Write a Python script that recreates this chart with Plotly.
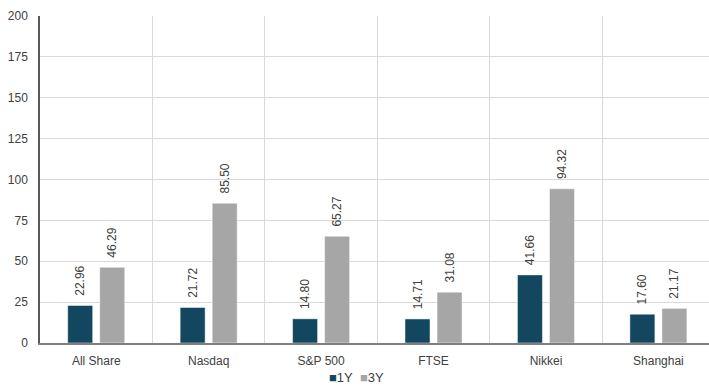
import plotly.graph_objects as go

categories = ["All Share", "Nasdaq", "S&P 500", "FTSE", "Nikkei", "Shanghai"]
series_names = ["1Y", "3Y"]
values_1y = [22.96, 21.72, 14.80, 14.71, 41.66, 17.60]
values_3y = [46.29, 85.50, 65.27, 31.08, 94.32, 21.17]
colors = ["#134760", "#a6a6a6"]
y_ticks = [0, 25, 50, 75, 100, 125, 150, 175, 200]

font_family = "Liberation Sans, Arial, sans-serif"
text_color = "#404040"

fig = go.Figure()
for name, vals, col in zip(series_names, [values_1y, values_3y], colors):
    fig.add_trace(go.Bar(
        x=categories, y=vals, name=name,
        marker=dict(color=col, line=dict(color="rgba(255,255,255,0.6)", width=0.8)),
        texttemplate="\u00a0\u00a0%{y:.2f}", textposition="outside", textangle=-90,
        constraintext="none",
        textfont=dict(size=12, color=text_color, family=font_family),
        cliponaxis=False, showlegend=False,
    ))

legend_text = "&nbsp;&nbsp;".join(
    f"<span style='color:{c}'>■</span>{n}" for n, c in zip(series_names, colors)
)
fig.add_annotation(
    x=0.473, y=-0.107, xref="paper", yref="paper",
    text=legend_text, showarrow=False, xanchor="center", yanchor="middle",
    font=dict(size=13, color=text_color, family=font_family),
)

fig.update_layout(
    width=709, height=385,
    margin=dict(l=40, r=0, t=16, b=41.5),
    paper_bgcolor="white", plot_bgcolor="white",
    barmode="group", bargap=0.43, bargroupgap=0.22,
    font=dict(family=font_family, size=12, color=text_color),
)
fig.update_xaxes(
    range=[-0.5, 5.45], tickson="boundaries", showgrid=True,
    gridcolor="#d9d9d9", gridwidth=1,
    showline=True, linecolor="#7f7f7f", linewidth=1.5,
    ticks="", ticklabelstandoff=6, tickfont=dict(size=12, color=text_color),
)
fig.update_yaxes(
    range=[0, 200], tickvals=y_ticks, showgrid=True,
    gridcolor="#d9d9d9", gridwidth=1,
    showline=True, linecolor="#595959", linewidth=1.5,
    zeroline=False, ticks="", ticklabelstandoff=8,
    tickfont=dict(size=12, color=text_color),
)

fig.write_html("out.html")
